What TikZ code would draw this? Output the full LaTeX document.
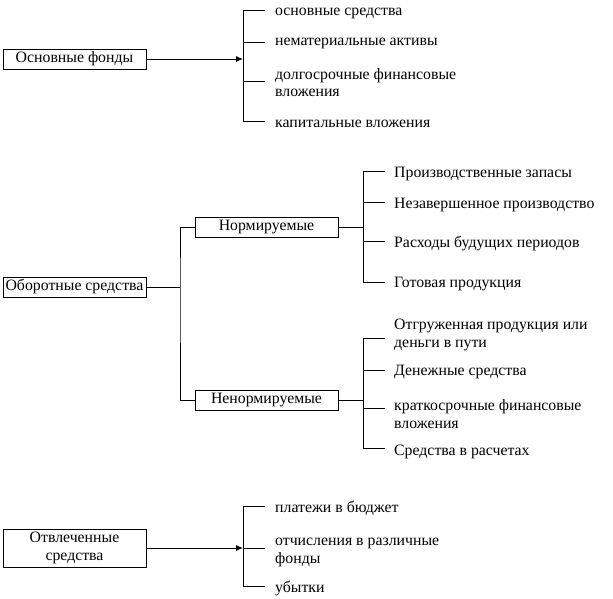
\documentclass[tikz,border=0pt]{standalone}
\usepackage{fontspec}
\setmainfont{Liberation Serif}
\usetikzlibrary{arrows.meta}
\begin{document}
\begin{tikzpicture}[x=1pt,y=-1pt,
  every node/.style={font=\fontsize{15.8}{17.5}\selectfont},
  ln/.style={draw=black,line width=0.9pt},
  box/.style={draw=black,line width=0.9pt,inner sep=0pt,align=center},
  item/.style={anchor=base west,inner sep=0pt,align=left},
  arr/.style={ln,-{Latex[length=7pt,width=6pt]}}]
\useasboundingbox (0,0) rectangle (613,599);
% ---------- top group
\node[box,minimum width=143pt,minimum height=20pt] (of) at (74.5,59) {Основные фонды};
\coordinate (ofb) at (243,59);
\coordinate (ofT) at (243,10);
\coordinate (ofB) at (243,121);
\draw[arr] (of.east) -- (ofb);
\draw[ln] (ofT) -- (ofB);
\node[item] (of1) at (275,16) {основные средства};
\node[item] (of2) at (275,46) {нематериальные активы};
\node[item] (of3) at (275,97) {долгосрочные финансовые\\вложения};
\node[item] (of4) at (275,128) {капитальные вложения};
\draw[ln] (ofT) -- (265,10);
\draw[ln] (243,42) -- (265,42);
\draw[ln] (243,81) -- (265,81);
\draw[ln] (ofB) -- (265,121);
% ---------- middle group
\node[box,minimum width=143pt,minimum height=20pt] (os) at (74.5,287) {Оборотные средства};
\node[box,minimum width=143pt,minimum height=20pt] (nr) at (266.5,227) {Нормируемые};
\node[box,minimum width=143pt,minimum height=20pt] (nn) at (266.5,400) {Ненормируемые};
\coordinate (osv) at (180,287);
\draw[ln] (os.east) -- (osv);
\draw[ln] (nr.west) -| (osv) |- (nn.west);
% normed list
\coordinate (nrv) at (363,227);
\draw[ln] (nr.east) -- (nrv);
\draw[ln] (363,171) -- (363,282);
\node[item] (n1) at (394,177) {Производственные запасы};
\node[item] (n2) at (394,208) {Незавершенное производство};
\node[item] (n3) at (394,247) {Расходы будущих периодов};
\node[item] (n4) at (394,287) {Готовая продукция};
\draw[ln] (363,171) -- (385,171);
\draw[ln] (363,202) -- (385,202);
\draw[ln] (363,241) -- (385,241);
\draw[ln] (363,282) -- (385,282);
% non-normed list
\coordinate (nnv) at (363,400);
\draw[ln] (nn.east) -- (nnv);
\draw[ln] (363,338) -- (363,448);
\node[item] (m1) at (394,347) {Отгруженная продукция или\\деньги в пути};
\node[item] (m2) at (394,375) {Денежные средства};
\node[item] (m3) at (394,428) {краткосрочные финансовые\\вложения};
\node[item] (m4) at (394,455) {Средства в расчетах};
\draw[ln] (363,338) -- (385,338);
\draw[ln] (363,370) -- (385,370);
\draw[ln] (363,408) -- (385,408);
\draw[ln] (363,448) -- (385,448);
% ---------- bottom group
\node[box,minimum width=143pt,minimum height=38pt] (ot) at (74.5,548) {Отвлеченные\\средства};
\coordinate (otb) at (243,548);
\draw[arr] (ot.east) -- (otb);
\draw[ln] (243,506) -- (243,586);
\node[item] (b1) at (275,512) {платежи в бюджет};
\node[item] (b2) at (275,563) {отчисления в различные\\фонды};
\node[item] (b3) at (275,592) {убытки};
\draw[ln] (243,506) -- (265,506);
\draw[ln] (243,548) -- (265,548);
\draw[ln] (243,586) -- (265,586);
\end{tikzpicture}
\end{document}
